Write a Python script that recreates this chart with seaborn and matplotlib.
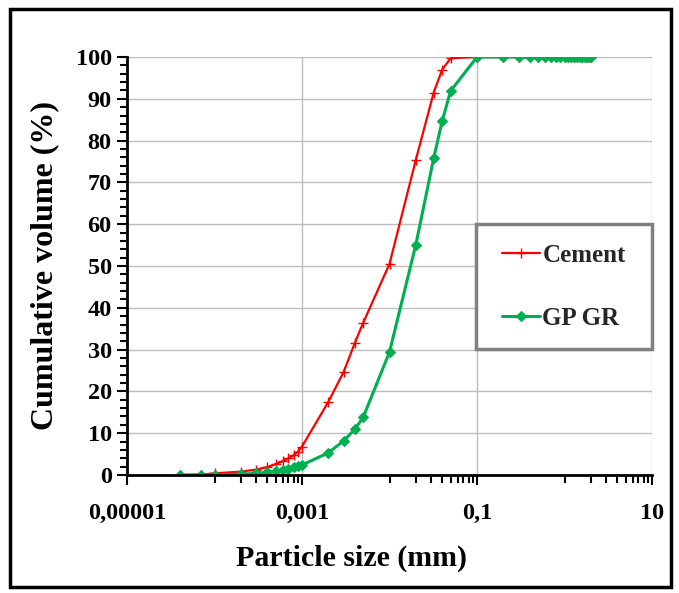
import matplotlib
matplotlib.use('Agg')
import matplotlib.pyplot as plt
import seaborn as sns
import numpy as np
from matplotlib.ticker import FixedLocator, NullFormatter, MultipleLocator
from matplotlib.patches import Rectangle

# ---- data ----
cement_size = [4e-5, 7e-5, 1e-4, 2e-4, 3e-4, 4e-4, 5e-4, 6e-4, 7e-4, 8e-4, 9e-4, 1e-3,
               2e-3, 3e-3, 4e-3, 5e-3, 1e-2, 2e-2, 3.2e-2, 4e-2, 5e-2,
               0.1, 0.2, 0.3, 0.4, 0.5, 0.6, 0.7, 0.8, 0.9, 1.0,
               1.1, 1.2, 1.3, 1.4, 1.5, 1.6, 1.7, 1.8, 1.9, 2.0]
cement_volume = [0.0, 0.1, 0.4, 0.8, 1.3, 1.9, 2.6, 3.3, 4.0, 4.7, 5.6, 6.8,
                 17.5, 24.7, 31.5, 36.4, 50.5, 75.4, 91.5, 97.0, 99.7,
                 100, 100, 100, 100, 100, 100, 100, 100, 100, 100,
                 100, 100, 100, 100, 100, 100, 100, 100, 100, 100]

gpgr_size = [4e-5, 7e-5, 1e-4, 2e-4, 3e-4, 4e-4, 5e-4, 6e-4, 7e-4, 8e-4, 9e-4, 1e-3,
             2e-3, 3e-3, 4e-3, 5e-3, 1e-2, 2e-2, 3.2e-2, 4e-2, 5e-2,
             0.1, 0.2, 0.3, 0.4, 0.5, 0.6, 0.7, 0.8, 0.9, 1.0,
             1.1, 1.2, 1.3, 1.4, 1.5, 1.6, 1.7, 1.8, 1.9, 2.0]
gpgr_volume = [0.0, 0.0, 0.0, 0.2, 0.4, 0.6, 0.9, 1.2, 1.5, 1.8, 2.1, 2.4,
               5.3, 8.2, 10.9, 13.8, 29.4, 55.1, 75.8, 84.7, 91.9,
               100, 100, 100, 100, 100, 100, 100, 100, 100, 100,
               100, 100, 100, 100, 100, 100, 100, 100, 100, 100]

x_tick_values = [1e-5, 1e-3, 1e-1, 10]
x_tick_labels = ['0,00001', '0,001', '0,1', '10']
x_minor_bases = [1e-4, 1e-2, 1]
y_tick_values = list(range(0, 101, 10))

series_names = ['Cement', 'GP GR']
series_colors = ['#FF0000', '#00B050']

# ---- style ----
sns.set_theme(style='white')
plt.rcParams['font.family'] = ['Liberation Serif', 'DejaVu Serif']
plt.rcParams['font.weight'] = 'bold'

fig = plt.figure(figsize=(6.79, 5.93), dpi=100)
ax = fig.add_axes([127 / 679, 1 - 475 / 593, 525 / 679, 418 / 593])

sns.lineplot(x=cement_size, y=cement_volume, ax=ax, color=series_colors[0],
             linewidth=1.6, marker='+', markersize=7, markeredgewidth=1.0,
             markeredgecolor=series_colors[0], label=series_names[0],
             estimator=None, sort=False)
sns.lineplot(x=gpgr_size, y=gpgr_volume, ax=ax, color=series_colors[1],
             linewidth=2.2, marker='D', markersize=5.5, markeredgewidth=0.8,
             markeredgecolor=series_colors[1], markerfacecolor=series_colors[1],
             label=series_names[1], estimator=None, sort=False)

ax.set_xscale('log')
ax.set_xlim(1e-5, 10)
ax.set_ylim(0, 100)

ax.set_xticks(x_tick_values)
ax.set_xticklabels(x_tick_labels)
minor = [b * k for b in x_minor_bases for k in range(1, 10)]
ax.xaxis.set_minor_locator(FixedLocator(minor))
ax.xaxis.set_minor_formatter(NullFormatter())
ax.set_yticks(y_tick_values)
ax.yaxis.set_minor_locator(MultipleLocator(2))

ax.grid(True, which='major', color='#BDBDBD', linewidth=1.0)
ax.grid(False, which='minor')
ax.set_axisbelow(True)

for s in ['top', 'right']:
    ax.spines[s].set_visible(False)
for s in ['left', 'bottom']:
    ax.spines[s].set_color('black')
    ax.spines[s].set_linewidth(2.0)

ax.tick_params(axis='both', which='both', bottom=True, left=True, direction='out',
               color='black', width=1.5)
ax.tick_params(axis='x', which='major', length=7, labelsize=17.5, pad=13)
ax.tick_params(axis='x', which='minor', length=6)
ax.tick_params(axis='y', which='major', length=7, labelsize=17.5, pad=4)
ax.tick_params(axis='y', which='minor', length=5)
for lab in ax.get_xticklabels() + ax.get_yticklabels():
    lab.set_fontweight('bold')
    lab.set_color('black')

ax.set_xlabel('Particle size (mm)', fontsize=21.5, fontweight='bold', color='black')
ax.xaxis.label.set_va('center')
ax.xaxis.set_label_coords(0.427, -0.199)
ax.set_ylabel('Cumulative volume (%)', fontsize=23, fontweight='bold', color='black')
ax.yaxis.label.set_va('center')
ax.yaxis.set_label_coords(-0.157, 0.5)

# legend box (drawn as its own frame) and frameless legend centred inside it
box_x0, box_y0, box_w, box_h = 0.6648, 0.3014, 0.3352, 0.299
ax.add_patch(Rectangle((box_x0, box_y0), box_w, box_h, transform=ax.transAxes,
                       facecolor='white', edgecolor='#808080', linewidth=2.5,
                       zorder=4.5, clip_on=False))
leg = ax.legend(loc='center', bbox_to_anchor=(box_x0 + box_w / 2, box_y0 + box_h / 2),
                borderaxespad=0, frameon=False, prop={'size': 18, 'weight': 'bold'},
                handlelength=1.5, handletextpad=0.1, borderpad=0.0, labelspacing=1.6,
                numpoints=1)
leg.set_zorder(6)

fig.patches.append(Rectangle((10 / 679, 6 / 593), 661 / 679, 578 / 593,
                             transform=fig.transFigure, fill=False,
                             edgecolor='black', linewidth=2.5))

fig.savefig('out.png', dpi=100)
